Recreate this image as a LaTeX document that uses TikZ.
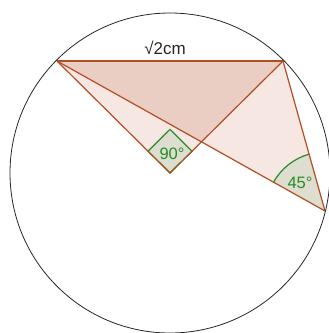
\documentclass[tikz,border=0pt]{standalone}
\usepackage{fontspec}
\setmainfont{Liberation Sans}
\usetikzlibrary{intersections,calc}
\definecolor{edge}{RGB}{178,78,36}
\definecolor{lightfill}{RGB}{247,231,227}
\definecolor{darkfill}{RGB}{234,206,196}
\definecolor{angfill}{RGB}{221,222,207}
\definecolor{anggreen}{RGB}{40,140,40}
\tikzset{
  seg/.style={draw=edge, line width=1.2pt},
  angmark/.style={draw=anggreen, fill=angfill, line width=1.2pt},
  anglabel/.style={text=anggreen, font=\fontsize{16.5}{16.5}\selectfont, inner sep=0pt},
  lenlabel/.style={text=black!85, font=\fontsize{17}{17}\selectfont, inner sep=0pt}
}
\begin{document}
\begin{tikzpicture}[x=1pt,y=-1pt]
\useasboundingbox (0,0) rectangle (329,333);
\coordinate (O) at (170,173);
\coordinate (A) at (57,61);
\coordinate (B) at (283,61);
\coordinate (C) at (325,211);
\path[name path=ac] (A) -- (C);
\path[name path=ob] (O) -- (B);
\path[name intersections={of=ac and ob, by=P}];
% fills
\fill[lightfill] (A) -- (B) -- (C) -- cycle;
\fill[lightfill] (A) -- (O) -- (B) -- cycle;
\fill[darkfill] (A) -- (B) -- (P) -- cycle;
% right angle marker
\coordinate (M1) at ($(O)!31pt!(A)$);
\coordinate (M3) at ($(O)!31pt!(B)$);
\coordinate (M2) at ($(M1)+(M3)-(O)$);
\path[angmark] (O) -- (M1) -- (M2) -- (M3) -- cycle;
% 45 degree sector at C
\coordinate (S1) at ($(C)!59pt!(A)$);
\fill[angfill] (C) -- (S1) arc[start angle=150.8, end angle=105.6, radius=59pt] -- cycle;
\draw[anggreen, line width=1.2pt] (S1) arc[start angle=150.8, end angle=105.6, radius=59pt];
% segments
\draw[seg] (A) -- (B);
\draw[seg] (A) -- (O) -- (B);
\draw[seg] (A) -- (C);
\draw[seg] (B) -- (C);
% circle
\draw[black!85, line width=0.8pt] (O) circle[radius=160pt];
% labels
\node[anglabel] (l90) at (172,154) {90°};
\node[anglabel] (l45) at (300,183) {45°};
\node[lenlabel] (len) at (165,48) {√2cm};
\end{tikzpicture}
\end{document}
